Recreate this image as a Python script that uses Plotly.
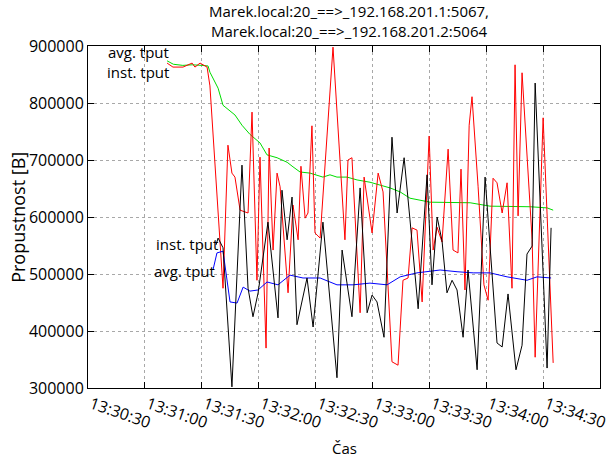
import pandas as pd
import plotly.graph_objects as go

BASE = pd.Timestamp("2013-05-06 13:30:30")

# Stream 1 (192.168.201.1:5067): average throughput
avg1_t = [41.7, 45.0, 50.0, 55.0, 60.0, 63.3, 64.3, 68.6, 71.2, 77.5, 81.2, 85.4,
          90.7, 94.4, 99.7, 105.0, 108.1, 111.8, 117.1, 123.9, 127.6, 131.3, 136.6,
          141.9, 148.7, 154.0, 159.3, 164.6, 169.8, 180.4, 190.9, 201.5, 212.0,
          222.6, 233.1, 242.1, 245.3]
avg1_v = [874000, 868000, 866000, 867000, 866000, 865000, 854000, 826000, 796000,
          779000, 761000, 745000, 730000, 709000, 704000, 696000, 688000, 679000,
          677000, 670000, 674000, 670000, 670000, 665000, 661000, 656000, 651000,
          644000, 633000, 626000, 625000, 625000, 619000, 619000, 618000, 616000,
          612000]

# Stream 1: instantaneous throughput
inst1_t = [41.7, 44.8, 50.1, 54.9, 56.4, 59.1, 62.8, 64.3, 71.2, 73.8, 75.9, 77.5,
           80.2, 84.4, 86.5, 89.1, 90.7, 93.9, 95.5, 97.6, 99.7, 101.3, 105.5,
           108.1, 110.8, 112.3, 114.5, 116.0, 118.1, 119.7, 122.4, 129.2, 135.5,
           137.1, 139.2, 143.5, 145.6, 149.8, 153.0, 155.6, 160.3, 163.5, 166.1,
           168.8, 170.9, 173.5, 176.2, 179.9, 182.0, 184.1, 186.7, 189.9, 192.5,
           195.1, 196.7, 198.8, 201.0, 202.5, 205.7, 208.8, 211.0, 213.6, 215.7,
           218.4, 221.0, 223.6, 225.2, 226.8, 228.9, 234.2, 235.8, 240.0, 245.3]
inst1_v = [870000, 863000, 863000, 870000, 863000, 870000, 863000, 830000, 475000,
           726000, 677000, 670000, 612000, 607000, 784000, 489000, 705000, 370000,
           721000, 542000, 677000, 653000, 467000, 621000, 560000, 689000, 598000,
           607000, 760000, 572000, 563000, 898000, 560000, 700000, 704000, 432000,
           670000, 572000, 677000, 644000, 346000, 340000, 489000, 493000, 581000,
           577000, 451000, 742000, 542000, 582000, 556000, 719000, 542000, 537000,
           684000, 472000, 761000, 811000, 654000, 481000, 454000, 668000, 660000,
           607000, 660000, 475000, 867000, 602000, 853000, 560000, 354000, 774000,
           344000]

# Stream 2 (192.168.201.2:5064): average throughput
avg2_t = [65.9, 68.0, 71.2, 74.9, 78.6, 81.8, 85.4, 89.7, 94.4, 100.2, 106.5, 113.4,
          122.4, 131.3, 139.8, 148.7, 157.7, 164.6, 173.5, 185.7, 194.6, 203.1,
          212.0, 221.0, 231.5, 236.8, 244.2]
avg2_v = [507000, 537000, 540000, 451000, 449000, 477000, 470000, 472000, 486000,
          481000, 498000, 493000, 493000, 481000, 481000, 484000, 481000, 495000,
          502000, 507000, 504000, 502000, 502000, 495000, 489000, 495000, 493000]

# Stream 2: instantaneous throughput
inst2_t = [67.5, 68.6, 71.2, 75.9, 81.2, 84.4, 87.0, 89.7, 94.9, 100.2, 102.3, 105.0,
           107.6, 110.2, 115.5, 118.7, 123.9, 131.3, 134.0, 139.2, 143.5, 147.2,
           149.8, 152.4, 156.1, 160.3, 163.0, 166.7, 169.8, 174.1, 178.8, 181.4,
           184.1, 186.7, 189.3, 192.0, 194.6, 197.8, 200.4, 205.2, 209.4, 215.7,
           218.4, 221.5, 225.7, 228.9, 231.5, 234.2, 235.8, 242.1, 244.2]
inst2_v = [551000, 563000, 546000, 302000, 691000, 475000, 425000, 467000, 591000,
           423000, 647000, 560000, 635000, 411000, 493000, 407000, 591000, 318000,
           542000, 425000, 651000, 432000, 463000, 451000, 389000, 740000, 607000,
           704000, 595000, 439000, 674000, 481000, 600000, 558000, 467000, 489000,
           472000, 389000, 507000, 332000, 670000, 379000, 372000, 465000, 332000,
           375000, 535000, 549000, 835000, 335000, 581000]

x_tick_labels = ["13:30:30", "13:31:00", "13:31:30", "13:32:00", "13:32:30",
                 "13:33:00", "13:33:30", "13:34:00", "13:34:30"]
y_ticks = [300000, 400000, 500000, 600000, 700000, 800000, 900000]

TITLE = ("Marek.local:20_==>_192.168.201.1:5067,<br>"
         "Marek.local:20_==>_192.168.201.2:5064")
FONT = "Open Sans"


def to_time(secs):
    return BASE + pd.to_timedelta(secs, unit="s")


series = [
    ("avg. tput", avg1_t, avg1_v, "#00dd00", 9),
    ("inst. tput", inst1_t, inst1_v, "#ff0000", -9),
    ("avg. tput", avg2_t, avg2_v, "#0000ff", -1),
    ("inst. tput", inst2_t, inst2_v, "#000000", 1),
]

fig = go.Figure()
annotations = []
for name, t, v, color, dy in series:
    xs = to_time(t)
    fig.add_trace(go.Scatter(x=xs, y=v, mode="lines", name=name,
                             line=dict(color=color, width=1), showlegend=False))
    annotations.append(dict(x=xs[0], y=v[0], xref="x", yref="y", text=name,
                            showarrow=False, xanchor="right", yanchor="middle",
                            xshift=4, yshift=dy,
                            font=dict(family=FONT, size=15, color="#000000")))

# two-line chart title above the plot frame
annotations.append(dict(x=0.51, y=1, xref="paper", yref="paper", text=TITLE,
                        showarrow=False, xanchor="center", yanchor="bottom",
                        yshift=3, font=dict(family=FONT, size=15, color="#000000")))
# axis titles
annotations.append(dict(x=0.5, y=-0.175, xref="paper", yref="paper", text="Čas",
                        showarrow=False, xanchor="center", yanchor="middle",
                        font=dict(family=FONT, size=15, color="#000000")))
annotations.append(dict(x=-0.137, y=0.5, xref="paper", yref="paper",
                        text="Propustnost [B]", textangle=-90,
                        showarrow=False, xanchor="center", yanchor="middle",
                        font=dict(family=FONT, size=18, color="#000000")))

tick_times = [BASE.normalize() + pd.Timedelta(s) for s in x_tick_labels]

fig.update_layout(
    width=609, height=457,
    margin=dict(l=88, r=9, t=46, b=69),
    paper_bgcolor="white", plot_bgcolor="white",
    font=dict(family=FONT, size=15, color="#000000"),
    annotations=annotations,
)
fig.update_xaxes(
    type="date", automargin=False,
    range=[BASE, BASE + pd.Timedelta(seconds=270)],
    tickvals=tick_times, ticktext=x_tick_labels, tickangle=19,
    tickfont=dict(family=FONT, size=16), ticklabelshift=3,
    showgrid=True, gridcolor="#a8a8a8", griddash="dot", gridwidth=1,
    showline=True, linecolor="black", linewidth=1, mirror="ticks",
    ticks="inside", ticklen=6, tickcolor="black",
    zeroline=False,
)
fig.update_yaxes(
    automargin=False,
    range=[300000, 900000], tickvals=y_ticks, tickformat="d",
    tickfont=dict(family=FONT, size=16),
    showgrid=True, gridcolor="#a8a8a8", griddash="dot", gridwidth=1,
    showline=True, linecolor="black", linewidth=1, mirror="ticks",
    ticks="inside", ticklen=6, tickcolor="black",
    zeroline=False,
)

fig.write_html("out.html")
